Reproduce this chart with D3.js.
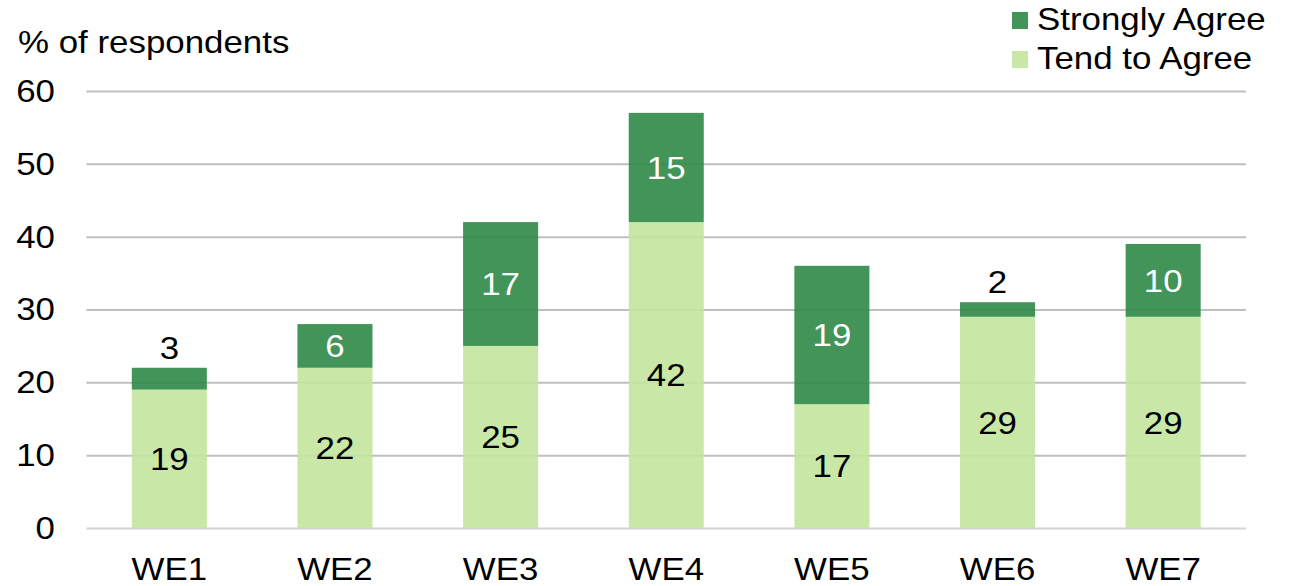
<!DOCTYPE html>
<html>
<head>
<meta charset="utf-8">
<script src="https://cdn.jsdelivr.net/npm/d3@7"></script>
<style>
  html, body { margin: 0; padding: 0; background: #fff; }
  svg { display: block; }
  text { font-family: "Liberation Sans", Arial, sans-serif; }
</style>
</head>
<body>
<svg id="chart" width="1294" height="586"></svg>
<script>
// Survey waves and the share of respondents agreeing
const categories = ["WE1", "WE2", "WE3", "WE4", "WE5", "WE6", "WE7"];
const tendToAgree = [19, 22, 25, 42, 17, 29, 29];
const stronglyAgree = [3, 6, 17, 15, 19, 2, 10];
const yTicks = [0, 10, 20, 30, 40, 50, 60];
const seriesNames = ["Strongly Agree", "Tend to Agree"];

const colors = { "Strongly Agree": "#2e8847", "Tend to Agree": "#c3e59e" };
const fontSize = 31;
const stretch = 1.125; // horizontal text widening

const svg = d3.select("#chart");
const plot = { left: 86.5, right: 1246, top: 91, bottom: 528 };

const x = d3.scaleBand()
  .domain(categories)
  .range([plot.left, plot.right])
  .paddingInner(0.547)
  .paddingOuter(0.2735);

const y = d3.scaleLinear().domain([0, 60]).range([plot.bottom, plot.top]);

// place a text element with slight horizontal widening
function label(g, tx, ty, str, anchor, fill) {
  return g.append("text")
    .attr("transform", `translate(${tx},${ty}) scale(${stretch},1)`)
    .attr("text-anchor", anchor)
    .attr("font-size", fontSize)
    .attr("fill", fill || "#000")
    .text(str);
}

// gridlines
const yAxis = d3.axisLeft(y).tickValues(yTicks).tickSize(-(plot.right - plot.left)).tickFormat("");
const gAxis = svg.append("g").attr("transform", `translate(${plot.left},0)`).call(yAxis);
gAxis.select(".domain").remove();
gAxis.selectAll(".tick line")
  .attr("stroke", d => d === 0 ? "#d4d4d4" : "#bfbfbf")
  .attr("stroke-width", 2);

// y tick labels
const gLabels = svg.append("g");
yTicks.forEach(t => label(gLabels, 55, y(t) + fontSize * 0.35, t, "end"));

// axis title
label(svg, 18, 53, "% of respondents", "start");

// stacked bars
const rows = categories.map((c, i) => ({ cat: c, "Tend to Agree": tendToAgree[i], "Strongly Agree": stronglyAgree[i] }));
const stack = d3.stack().keys(["Tend to Agree", "Strongly Agree"]);
const layers = stack(rows);

const gBars = svg.append("g");
layers.forEach(layer => {
  gBars.selectAll(null)
    .data(layer)
    .join("rect")
    .attr("x", d => x(d.data.cat))
    .attr("width", x.bandwidth())
    .attr("y", d => y(d[1]))
    .attr("height", d => y(d[0]) - y(d[1]))
    .attr("fill", colors[layer.key])
    .attr("fill-opacity", 0.9);
});

// value labels
const gVals = svg.append("g");
layers.forEach(layer => {
  layer.forEach(d => {
    const v = d[1] - d[0];
    const cx = x(d.data.cat) + x.bandwidth() / 2;
    const segH = y(d[0]) - y(d[1]);
    if (layer.key === "Strongly Agree" && segH < 30) {
      label(gVals, cx, y(d[1]) - 9, v, "middle", "#000");
    } else {
      const cy = (y(d[0]) + y(d[1])) / 2 + fontSize * 0.36;
      label(gVals, cx, cy, v, "middle", layer.key === "Strongly Agree" ? "#fff" : "#000");
    }
  });
});

// category labels
categories.forEach(c => label(svg, x(c) + x.bandwidth() / 2, 580, c, "middle"));

// legend
const legend = svg.append("g");
seriesNames.forEach((name, i) => {
  const ly = 30 + i * 39;
  legend.append("rect")
    .attr("x", 1012).attr("y", ly - 18)
    .attr("width", 16).attr("height", 17)
    .attr("fill", colors[name]).attr("fill-opacity", 0.9);
  label(legend, 1037, ly, name, "start");
});
</script>
</body>
</html>
